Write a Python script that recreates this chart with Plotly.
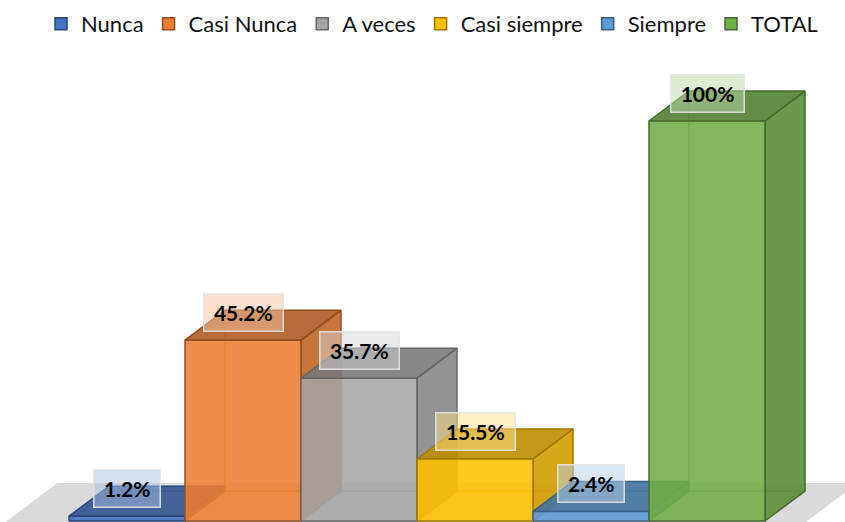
import plotly.graph_objects as go

# ---- data ----
categories = ["Nunca", "Casi Nunca", "A veces", "Casi siempre", "Siempre", "TOTAL"]
values = [1.2, 45.2, 35.7, 15.5, 2.4, 100]
labels = ["1.2%", "45.2%", "35.7%", "15.5%", "2.4%", "100%"]
colors = ["#4472C4", "#ED7D31", "#A5A5A5", "#FFC000", "#5B9BD5", "#70AD47"]

# ---- 3D geometry (axis units) ----
DX = 0.345   # depth offset along x
DY = 7.5     # depth offset along y
HALF = 0.5

# approximate glyph widths (px) for the label font, used to size label boxes
GLYPH_W = {".": 5.5, "%": 17.5}


def rgb(hexc):
    h = hexc.lstrip("#")
    return tuple(int(h[k:k + 2], 16) for k in (0, 2, 4))


def shade(hexc, f, a=1.0):
    r, g, b = rgb(hexc)
    return f"rgba({int(r*f)},{int(g*f)},{int(b*f)},{a})"


def tint(hexc, w, a):
    r, g, b = rgb(hexc)
    mix = lambda c: int(c * (1 - w) + 255 * w)
    return f"rgba({mix(r)},{mix(g)},{mix(b)},{a})"


def label_box_width(s):
    return sum(GLYPH_W.get(c, 12.2) for c in s) + 18


fig = go.Figure()

# floor
fx = [-0.60, 6.30, 6.30 - 0.49, -0.60 - 0.49, -0.60]
fy = [9.5, 9.5, -1.2, -1.2, 9.5]
fig.add_trace(go.Scatter(x=fx, y=fy, fill="toself", fillcolor="#dadada",
                         line=dict(width=0), mode="lines", hoverinfo="skip",
                         showlegend=False))

for i, (cat, v, col) in enumerate(zip(categories, values, colors)):
    L, R = i - HALF, i + HALF
    edge = shade(col, 0.62, 1)
    # hidden edges seen through translucent box
    fig.add_trace(go.Scatter(
        x=[L, L + DX, R + DX, None, L + DX, L + DX],
        y=[0, DY, DY, None, DY, v + DY],
        mode="lines", line=dict(color=shade(col, 0.8, 0.7), width=1.5),
        hoverinfo="skip", showlegend=False))
    # side face
    fig.add_trace(go.Scatter(
        x=[R, R + DX, R + DX, R, R], y=[0, DY, v + DY, v, 0],
        fill="toself", fillcolor=shade(col, 0.82, 0.9),
        mode="lines", line=dict(color=edge, width=1.5),
        hoverinfo="skip", showlegend=False))
    # top face
    fig.add_trace(go.Scatter(
        x=[L, R, R + DX, L + DX, L], y=[v, v, v + DY, v + DY, v],
        fill="toself", fillcolor=shade(col, 0.74, 0.9),
        mode="lines", line=dict(color=edge, width=1.5),
        hoverinfo="skip", showlegend=False))
    # front face
    fig.add_trace(go.Scatter(
        x=[L, R, R, L, L], y=[0, 0, v, v, 0],
        fill="toself", fillcolor=shade(col, 1.0, 0.88),
        mode="lines", line=dict(color=edge, width=1.5),
        hoverinfo="skip", showlegend=False))
    # legend entry
    fig.add_trace(go.Bar(x=[None], y=[None], name=cat,
                         marker=dict(color=col, line=dict(color=edge, width=1.5))))
    fig.add_annotation(x=i, y=v, yshift=28, text=f"<b>{labels[i]}</b>",
                       showarrow=False,
                       width=label_box_width(labels[i]), height=36,
                       align="center", valign="middle",
                       font=dict(family="Lato", size=21, color="black"),
                       bgcolor=tint(col, 0.55, 0.5),
                       bordercolor="rgba(228,228,228,0.9)",
                       borderwidth=1.5, borderpad=0)

fig.update_layout(
    width=845, height=522,
    margin=dict(l=0, r=0, t=0, b=0),
    paper_bgcolor="white", plot_bgcolor="white",
    xaxis=dict(range=[-127 / 116, (845 - 127) / 116], visible=False, fixedrange=True),
    yaxis=dict(range=[-0.25, 130.25], visible=False, fixedrange=True),
    showlegend=True,
    legend=dict(orientation="h", x=41 / 845, xanchor="left", y=1 - 24 / 522,
                yanchor="middle", bgcolor="rgba(0,0,0,0)",
                font=dict(family="Lato", size=22, color="#111111"),
                traceorder="normal"),
    font=dict(family="Lato"),
)

fig.write_html("out.html", config={"displayModeBar": False},
               post_script="document.body.style.margin='0px';")
